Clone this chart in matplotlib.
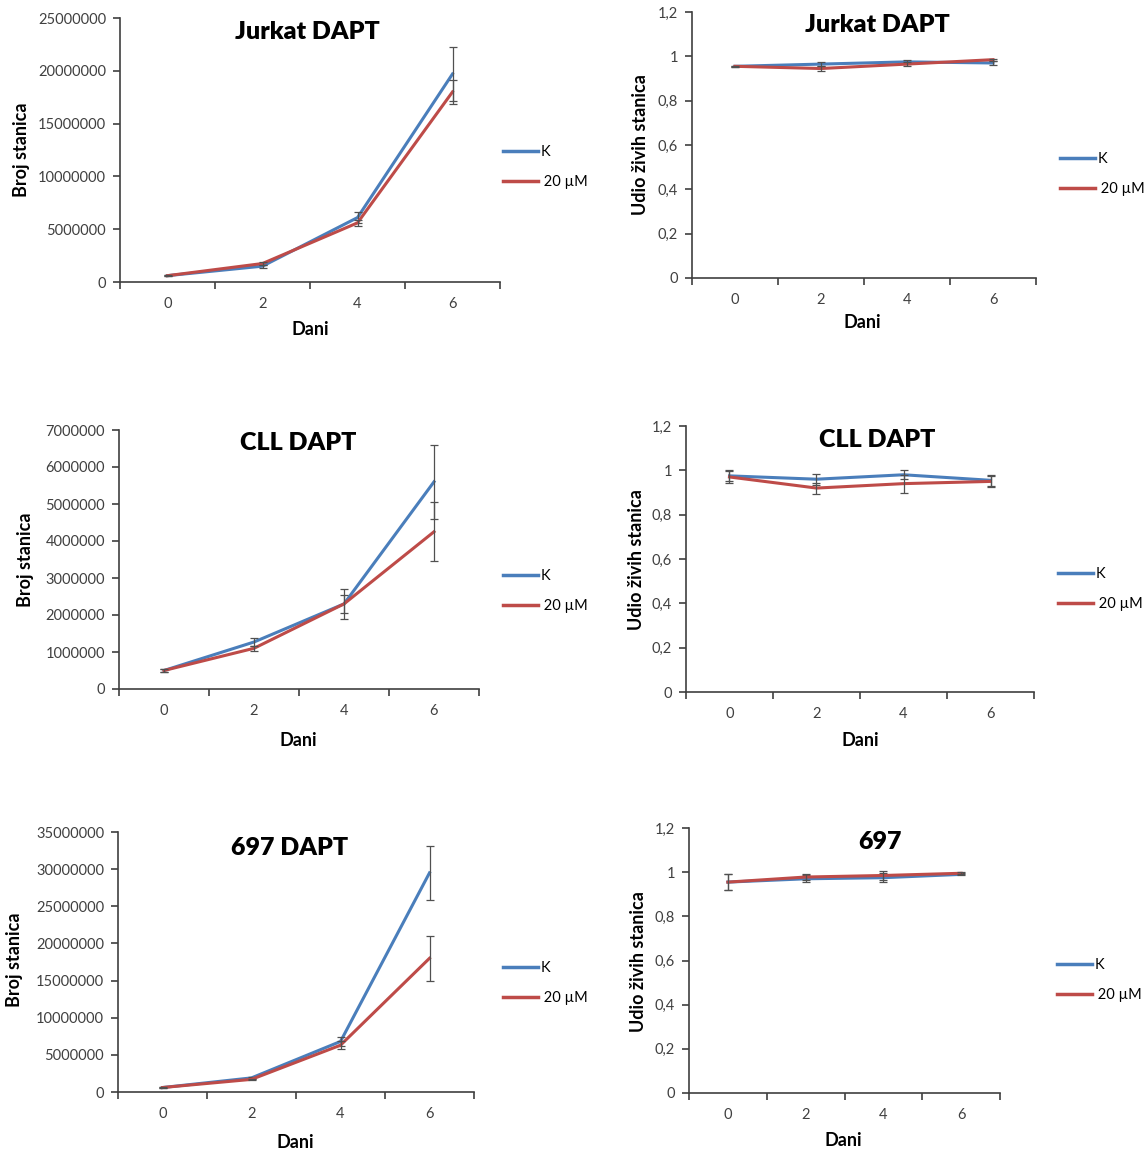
import matplotlib
matplotlib.use("Agg")
import matplotlib.pyplot as plt
import numpy as np
from matplotlib.ticker import FuncFormatter

plt.rcParams['font.family'] = ['Lato', 'DejaVu Sans']

days = ['0', '2', '4', '6']
series_labels = ['K', ' 20 \u00b5M']
blue = '#4A7EBB'
red = '#BE4B48'

# Jurkat DAPT
jurkat_count_k = [600000, 1500000, 6100000, 19700000]
jurkat_count_k_err = [30000, 150000, 500000, 2600000]
jurkat_count_d = [600000, 1750000, 5600000, 18000000]
jurkat_count_d_err = [30000, 150000, 300000, 1100000]
jurkat_viab_k = [0.955, 0.965, 0.975, 0.97]
jurkat_viab_k_err = [0.003, 0.01, 0.008, 0.01]
jurkat_viab_d = [0.955, 0.945, 0.965, 0.985]
jurkat_viab_d_err = [0.003, 0.012, 0.008, 0.005]

# CLL DAPT
cll_count_k = [500000, 1270000, 2300000, 5600000]
cll_count_k_err = [40000, 120000, 400000, 1000000]
cll_count_d = [500000, 1100000, 2300000, 4250000]
cll_count_d_err = [40000, 70000, 250000, 800000]
cll_viab_k = [0.975, 0.96, 0.98, 0.955]
cll_viab_k_err = [0.025, 0.025, 0.02, 0.025]
cll_viab_d = [0.97, 0.92, 0.94, 0.95]
cll_viab_d_err = [0.025, 0.025, 0.04, 0.025]

# 697
c697_count_k = [600000, 1900000, 6800000, 29500000]
c697_count_k_err = [30000, 100000, 600000, 3600000]
c697_count_d = [600000, 1700000, 6300000, 18000000]
c697_count_d_err = [30000, 100000, 500000, 3000000]
c697_viab_k = [0.955, 0.97, 0.975, 0.99]
c697_viab_k_err = [0.035, 0.015, 0.02, 0.005]
c697_viab_d = [0.955, 0.978, 0.985, 0.995]
c697_viab_d_err = [0.035, 0.015, 0.02, 0.005]

W, H = 1146, 1151
fig = plt.figure(figsize=(W / 100, H / 100), dpi=100)


def px_axes(l, r, t, b):
    return [l / W, 1 - b / H, (r - l) / W, (b - t) / H]


def comma_fmt(v, pos):
    return ('%g' % round(v, 2)).replace('.', ',')


def panel(rect, k, k_err, d, d_err, ymax, ystep, title, title_xy, ylabel, ylabel_xy,
          xlabel_xy, legend_xy, comma=False):
    ax = fig.add_axes(px_axes(*rect))
    x = np.arange(len(days))
    ax.plot(x, k, color=blue, lw=2.2, label=series_labels[0], zorder=2)
    ax.errorbar(x, k, yerr=k_err, fmt='none', ecolor='#505050',
                elinewidth=0.9, capsize=3, capthick=0.9, zorder=2.5)
    ax.plot(x, d, color=red, lw=2.2, label=series_labels[1], zorder=3)
    ax.errorbar(x, d, yerr=d_err, fmt='none', ecolor='#505050',
                elinewidth=0.9, capsize=3, capthick=0.9, zorder=3.5)
    ax.set_xlim(-0.5, len(days) - 0.5)
    ax.set_ylim(0, ymax)
    ax.set_yticks(np.arange(0, ymax + ystep / 2, ystep))
    if comma:
        ax.yaxis.set_major_formatter(FuncFormatter(comma_fmt))
    else:
        ax.yaxis.set_major_formatter(FuncFormatter(lambda v, p: '%d' % v))
    ax.set_xticks(np.arange(-0.5, len(days), 1))
    ax.set_xticklabels([])
    ax.set_xticks(x, minor=True)
    ax.set_xticklabels(days, minor=True)
    ax.tick_params(axis='x', which='major', length=5, width=1.2, color='#404040')
    ax.tick_params(axis='x', which='minor', length=0, pad=11, labelsize=10.5, labelcolor='#404040')
    ax.tick_params(axis='y', length=5, width=1.2, color='#404040', pad=5,
                   labelsize=10.5, labelcolor='#404040')
    for s in ['top', 'right']:
        ax.spines[s].set_visible(False)
    for s in ['left', 'bottom']:
        ax.spines[s].set_color('#404040')
        ax.spines[s].set_linewidth(1.2)
    fig.text(title_xy[0] / W, 1 - title_xy[1] / H, title, ha='center', va='center',
             fontsize=18, fontweight='heavy')
    fig.text(ylabel_xy[0] / W, 1 - ylabel_xy[1] / H, ylabel, ha='center', va='center',
             rotation=90, fontsize=13, fontweight='bold')
    fig.text(xlabel_xy[0] / W, 1 - xlabel_xy[1] / H, 'Dani', ha='center', va='center',
             fontsize=13, fontweight='bold')
    leg = ax.legend(loc='center left', bbox_to_anchor=(legend_xy[0] / W, 1 - legend_xy[1] / H),
                    bbox_transform=fig.transFigure, frameon=False, fontsize=10.5,
                    handlelength=2.4, handletextpad=0.15, labelspacing=1.15,
                    borderpad=0, borderaxespad=0)
    for h in leg.legend_handles:
        h.set_linewidth(2.5)
    return ax


panel((120, 500, 18, 282), jurkat_count_k, jurkat_count_k_err, jurkat_count_d, jurkat_count_d_err,
      25000000, 5000000, 'Jurkat DAPT', (307, 32), 'Broj stanica', (22, 150), (310, 330), (503, 167))
panel((692, 1036, 12, 278), jurkat_viab_k, jurkat_viab_k_err, jurkat_viab_d, jurkat_viab_d_err,
      1.2, 0.2, 'Jurkat DAPT', (877, 25), 'Udio \u017eivih stanica', (641, 145), (862, 323),
      (1060, 174), comma=True)
panel((119, 479, 430, 689), cll_count_k, cll_count_k_err, cll_count_d, cll_count_d_err,
      7000000, 1000000, 'CLL DAPT', (298, 443), 'Broj stanica', (25, 560), (298, 740), (503, 591))
panel((686, 1034, 426, 692), cll_viab_k, cll_viab_k_err, cll_viab_d, cll_viab_d_err,
      1.2, 0.2, 'CLL DAPT', (877, 440), 'Udio \u017eivih stanica', (636, 560), (860, 740),
      (1058, 589), comma=True)
panel((118, 474, 832, 1092), c697_count_k, c697_count_k_err, c697_count_d, c697_count_d_err,
      35000000, 5000000, '697 DAPT', (290, 848), 'Broj stanica', (15, 960), (295, 1143), (503, 983))
panel((689, 1000, 828, 1093), c697_viab_k, c697_viab_k_err, c697_viab_d, c697_viab_d_err,
      1.2, 0.2, '697', (880, 842), 'Udio \u017eivih stanica', (638, 962), (843, 1140),
      (1057, 980), comma=True)

fig.savefig('out.png', dpi=100)
